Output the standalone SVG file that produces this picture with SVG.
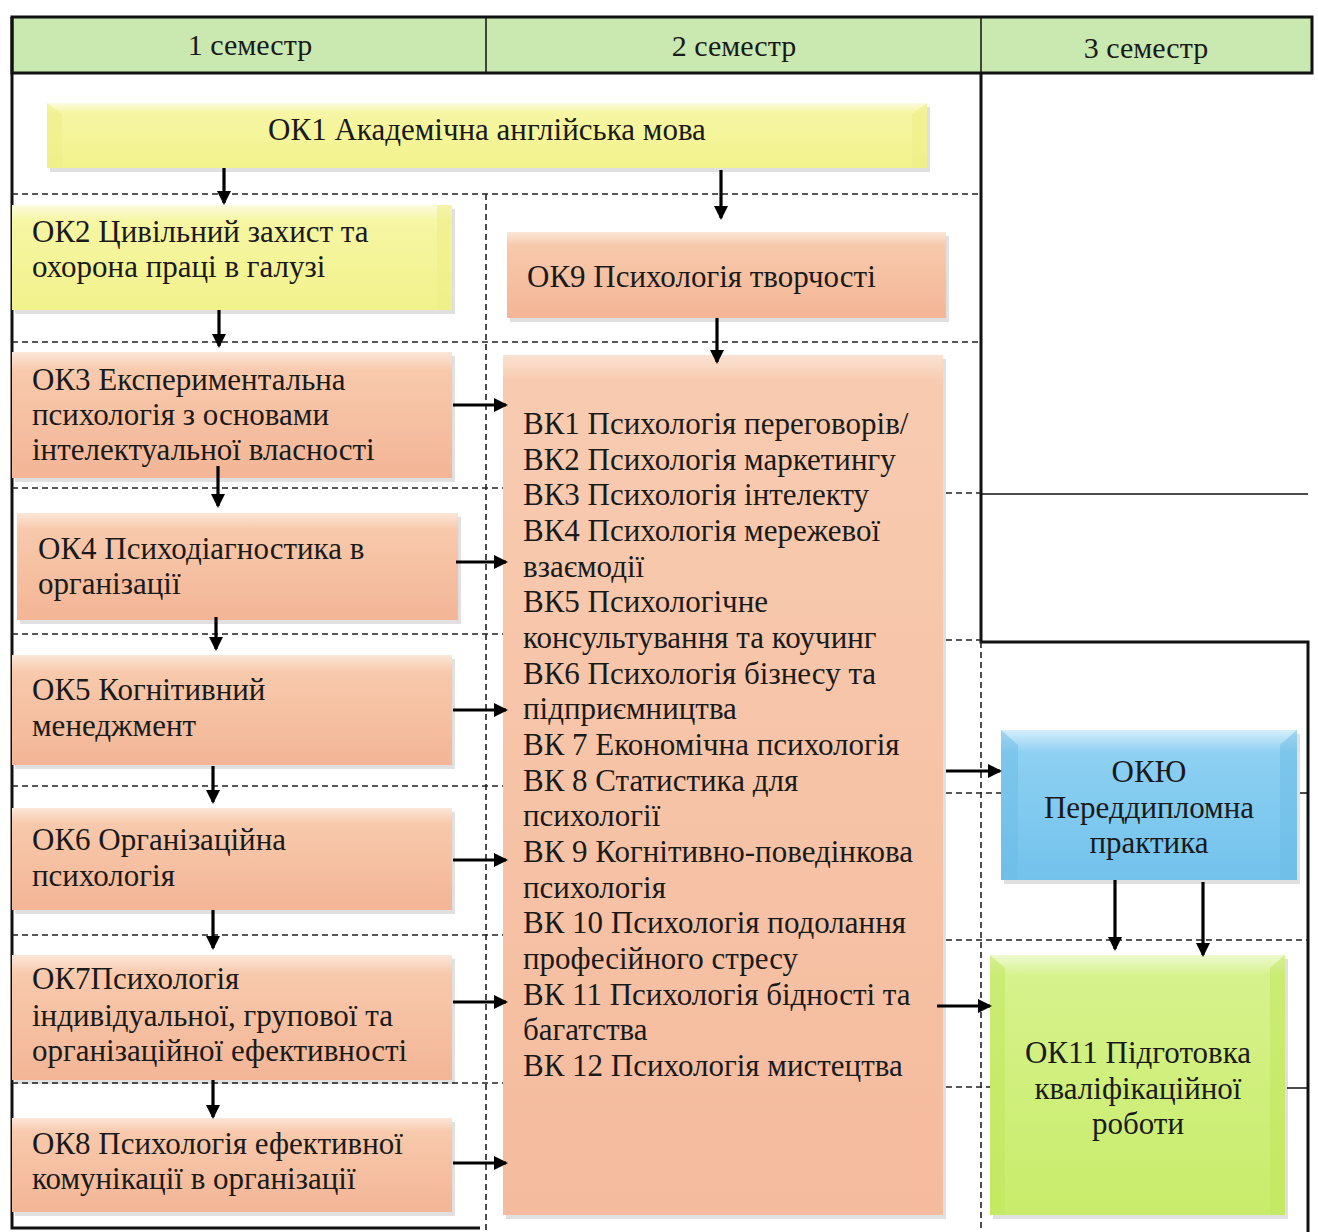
<svg xmlns="http://www.w3.org/2000/svg" width="1318" height="1232" viewBox="0 0 1318 1232">
<defs>
<style>
text{font-family:"Liberation Serif","Times New Roman",serif;font-size:31px;fill:#1a1a1a}
.hd{font-size:30px}
.frame{fill:none;stroke:#111;stroke-width:3}
.thin{fill:none;stroke:#111;stroke-width:1.5}
.dash{fill:none;stroke:#222;stroke-width:1.6;stroke-dasharray:6 4}
.arr{stroke:#000;stroke-width:3.2;fill:none;marker-end:url(#ah)}
.shadow{fill:#000;opacity:0.12}
</style>
<marker id="ah" markerWidth="14" markerHeight="14" refX="12" refY="7" orient="auto" markerUnits="userSpaceOnUse" viewBox="0 0 14 14">
<path d="M0,0 L14,7 L0,14 z" fill="#000"/>
</marker>
<linearGradient id="gY" x1="0" y1="0" x2="0" y2="1">
<stop offset="0" stop-color="#fbfbe0"/><stop offset="0.15" stop-color="#f6f6a4"/><stop offset="1" stop-color="#f2f28c"/>
</linearGradient>
<linearGradient id="gS" x1="0" y1="0" x2="0" y2="1">
<stop offset="0" stop-color="#fbe6d8"/><stop offset="0.15" stop-color="#f8c9ac"/><stop offset="1" stop-color="#f3b596"/>
</linearGradient>
<linearGradient id="gSB" x1="0" y1="0" x2="0" y2="1">
<stop offset="0" stop-color="#fbe2d2"/><stop offset="0.03" stop-color="#f8cbb0"/><stop offset="1" stop-color="#f5bb9e"/>
</linearGradient>
<linearGradient id="gB" x1="0" y1="0" x2="0" y2="1">
<stop offset="0" stop-color="#d6eefb"/><stop offset="0.15" stop-color="#8dd0f2"/><stop offset="1" stop-color="#72c2ec"/>
</linearGradient>
<linearGradient id="gG" x1="0" y1="0" x2="0" y2="1">
<stop offset="0" stop-color="#eef9cf"/><stop offset="0.08" stop-color="#d6f28c"/><stop offset="1" stop-color="#c8ec6a"/>
</linearGradient>
</defs>
<rect width="1318" height="1232" fill="#ffffff"/>

<g id="frame">
<rect x="12" y="17" width="1300" height="56" fill="#c9e9b0"/>
<path class="frame" d="M12,17 H1312 V73 H12 Z"/>
<path class="thin" d="M486,17 V73 M981,17 V73"/>
<path class="frame" d="M12,17 V1228 H480"/>
<path class="frame" d="M981,73 V642 H1308 V1232"/>
<path class="thin" d="M981,494 H1308"/>
<path class="thin" d="M1300,793 H1308 M1287,1088 H1308"/>
<text class="hd" x="250" y="55" text-anchor="middle">1 семестр</text>
<text class="hd" x="734" y="56" text-anchor="middle">2 семестр</text>
<text class="hd" x="1146" y="58" text-anchor="middle">3 семестр</text>
</g>

<g id="grid">
<path class="dash" d="M12,194 H981"/>
<path class="dash" d="M12,342 H981"/>
<path class="dash" d="M12,488 H505 M946,493 H981"/>
<path class="dash" d="M12,634 H505 M946,640 H981"/>
<path class="dash" d="M12,786 H505 M946,793 H1001"/>
<path class="dash" d="M12,935 H505 M946,940 H1308"/>
<path class="dash" d="M12,1083 H505 M946,1087 H990"/>
<path class="dash" d="M486,194 V1232"/>
<path class="dash" d="M981,642 V1232"/>
</g>

<g id="ok1">
<rect class="shadow" x="50" y="107" width="880" height="65"/>
<rect x="47" y="103" width="880" height="65" fill="url(#gY)"/>
<path d="M47,103 L62,114 L62,168 L47,168 Z M927,103 L912,114 L912,168 L927,168 Z" fill="#eeee88" opacity="0.6"/>
<text x="487" y="140" text-anchor="middle">ОК1 Академічна англійська мова</text>
</g>

<g id="ok2">
<rect class="shadow" x="15" y="209" width="440" height="105"/>
<rect x="12" y="205" width="440" height="105" fill="url(#gY)"/>
<path d="M437,205 L452,205 L452,310 L437,310 L437,217 Z" fill="#eeee88" opacity="0.6"/>
<text x="32" y="242">ОК2 Цивільний захист та</text>
<text x="32" y="277">охорона праці в галузі</text>
</g>

<g id="ok9">
<rect class="shadow" x="510" y="236" width="439" height="86"/>
<rect x="507" y="232" width="439" height="86" fill="url(#gS)"/>
<text x="527" y="287">ОК9 Психологія творчості</text>
</g>

<g id="ok3">
<rect class="shadow" x="15" y="356" width="440" height="126"/>
<rect x="12" y="352" width="440" height="126" fill="url(#gS)"/>
<text x="32" y="390">ОК3 Експериментальна</text>
<text x="32" y="425">психологія з основами</text>
<text x="32" y="460">інтелектуальної власності</text>
</g>

<g id="ok4">
<rect class="shadow" x="20" y="517" width="441" height="107"/>
<rect x="17" y="513" width="441" height="107" fill="url(#gS)"/>
<text x="38" y="559">ОК4 Психодіагностика в</text>
<text x="38" y="594">організації</text>
</g>

<g id="ok5">
<rect class="shadow" x="15" y="659" width="440" height="110"/>
<rect x="12" y="655" width="440" height="110" fill="url(#gS)"/>
<text x="32" y="700">ОК5 Когнітивний</text>
<text x="32" y="736">менеджмент</text>
</g>

<g id="ok6">
<rect class="shadow" x="15" y="812" width="440" height="102"/>
<rect x="12" y="808" width="440" height="102" fill="url(#gS)"/>
<text x="32" y="850">ОК6 Організаційна</text>
<text x="32" y="886">психологія</text>
</g>

<g id="ok7">
<rect class="shadow" x="15" y="959" width="440" height="125"/>
<rect x="12" y="955" width="440" height="125" fill="url(#gS)"/>
<text x="32" y="989">ОК7Психологія</text>
<text x="32" y="1026">індивідуальної, групової та</text>
<text x="32" y="1061">організаційної ефективності</text>
</g>

<g id="ok8">
<rect class="shadow" x="15" y="1122" width="440" height="94"/>
<rect x="12" y="1118" width="440" height="94" fill="url(#gS)"/>
<text x="32" y="1154">ОК8 Психологія ефективної</text>
<text x="32" y="1189">комунікації в організації</text>
</g>

<g id="vk">
<rect class="shadow" x="506" y="359" width="440" height="860"/>
<rect x="503" y="355" width="440" height="860" fill="url(#gSB)"/>
<text x="523" y="434">
<tspan x="523">ВК1 Психологія переговорів/</tspan>
<tspan x="523" dy="35.67">ВК2 Психологія маркетингу</tspan>
<tspan x="523" dy="35.67">ВК3 Психологія інтелекту</tspan>
<tspan x="523" dy="35.67">ВК4 Психологія мережевої</tspan>
<tspan x="523" dy="35.67">взаємодії</tspan>
<tspan x="523" dy="35.67">ВК5 Психологічне</tspan>
<tspan x="523" dy="35.67">консультування та коучинг</tspan>
<tspan x="523" dy="35.67">ВК6 Психологія бізнесу та</tspan>
<tspan x="523" dy="35.67">підприємництва</tspan>
<tspan x="523" dy="35.67">ВК 7 Економічна психологія</tspan>
<tspan x="523" dy="35.67">ВК 8 Статистика для</tspan>
<tspan x="523" dy="35.67">психології</tspan>
<tspan x="523" dy="35.67">ВК 9 Когнітивно-поведінкова</tspan>
<tspan x="523" dy="35.67">психологія</tspan>
<tspan x="523" dy="35.67">ВК 10 Психологія подолання</tspan>
<tspan x="523" dy="35.67">професійного стресу</tspan>
<tspan x="523" dy="35.67">ВК 11 Психологія бідності та</tspan>
<tspan x="523" dy="35.67">багатства</tspan>
<tspan x="523" dy="35.67">ВК 12 Психологія мистецтва</tspan>
</text>
</g>

<g id="okyu">
<rect class="shadow" x="1004" y="734" width="296" height="150"/>
<rect x="1001" y="730" width="296" height="150" fill="url(#gB)"/>
<path d="M1001,730 L1018,745 L1018,880 L1001,880 Z M1297,730 L1280,745 L1280,880 L1297,880 Z" fill="#6bbbe6" opacity="0.5"/>
<text x="1149" y="782" text-anchor="middle">ОКЮ</text>
<text x="1149" y="818" text-anchor="middle">Переддипломна</text>
<text x="1149" y="853" text-anchor="middle">практика</text>
</g>

<g id="ok11">
<rect class="shadow" x="993" y="959" width="295" height="260"/>
<rect x="990" y="955" width="295" height="260" fill="url(#gG)"/>
<path d="M990,955 L1005,968 L1005,1215 L990,1215 Z M1285,955 L1270,968 L1270,1215 L1285,1215 Z" fill="#bfe65a" opacity="0.5"/>
<text x="1138" y="1063" text-anchor="middle">ОК11 Підготовка</text>
<text x="1138" y="1099" text-anchor="middle">кваліфікаційної</text>
<text x="1138" y="1134" text-anchor="middle">роботи</text>
</g>

<g id="connectors">
<path class="arr" d="M224,168 V203"/>
<path class="arr" d="M721,170 V218"/>
<path class="arr" d="M219,310 V346"/>
<path class="arr" d="M717,318 V362"/>
<path class="arr" d="M218,466 V506"/>
<path class="arr" d="M216,617 V649"/>
<path class="arr" d="M213,766 V802"/>
<path class="arr" d="M213,910 V948"/>
<path class="arr" d="M213,1080 V1117"/>
<path class="arr" d="M453,405 H506"/>
<path class="arr" d="M456,562 H506"/>
<path class="arr" d="M453,710 H506"/>
<path class="arr" d="M453,860 H506"/>
<path class="arr" d="M453,1002 H506"/>
<path class="arr" d="M453,1163 H506"/>
<path class="arr" d="M946,771 H1000"/>
<path class="arr" d="M937,1006 H990"/>
<path class="arr" d="M1115,880 V949"/>
<path class="arr" d="M1203,882 V955"/>
</g>
</svg>
